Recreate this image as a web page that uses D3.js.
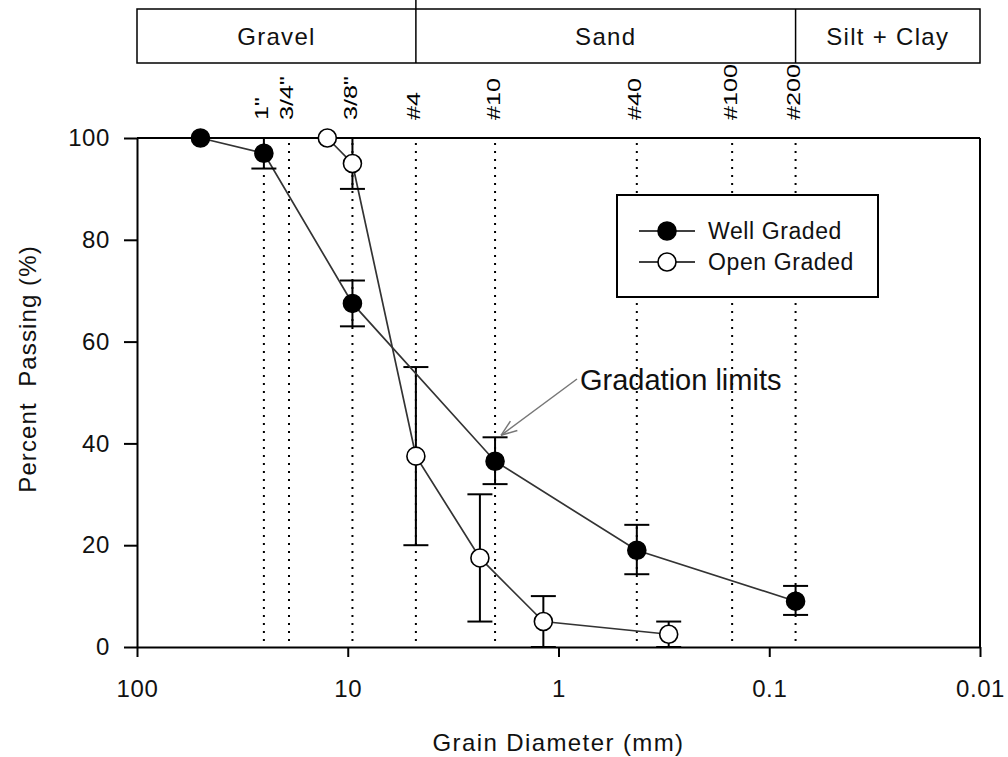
<!DOCTYPE html>
<html>
<head>
<meta charset="utf-8">
<script src="https://cdn.jsdelivr.net/npm/d3@7"></script>
<style>
  html, body { margin: 0; padding: 0; background: #fff; }
  svg { display: block; font-family: "Liberation Sans", Arial, sans-serif; }
</style>
</head>
<body>
<svg id="chart" width="1008" height="757"></svg>
<script>
// Sieve sizes (mm) and their designations
const sieveSizes  = [25, 19, 9.5, 4.75, 2.0, 0.425, 0.15, 0.075];
const sieveLabels = ['1"', '3/4"', '3/8"', '#4', '#10', '#40', '#100', '#200'];

// Soil classes along the grain-size axis
const classNames  = ["Gravel", "Sand", "Silt + Clay"];
const classBounds = [100, 4.75, 0.075, 0.01];

// Well graded mix: size (mm), percent passing, gradation limits
const wellSize    = [50, 25, 9.5, 2.0, 0.425, 0.075];
const wellPassing = [100, 97, 67.5, 36.5, 19, 9];
const wellLow     = [null, 94, 63, 32, 14.3, 6.3];
const wellHigh    = [null, 100, 72, 41.2, 24, 12];

// Open graded mix
const openSize    = [12.5, 9.5, 4.75, 2.36, 1.18, 0.3];
const openPassing = [100, 95, 37.5, 17.5, 5, 2.5];
const openLow     = [null, 90, 20, 5, 0, 0];
const openHigh    = [null, 100, 55, 30, 10, 5];

// Axis ticks
const xTicks = [100, 10, 1, 0.1, 0.01];
const xTickLabels = ["100", "10", "1", "0.1", "0.01"];
const yTicks = [0, 20, 40, 60, 80, 100];

const svg = d3.select("#chart");
const plotLeft = 137, plotRight = 980, plotTop = 138, plotBottom = 647;

const x = d3.scaleLog().domain([100, 0.01]).range([plotLeft, plotRight]);
const y = d3.scaleLinear().domain([0, 100]).range([plotBottom, plotTop]);

const textColor = "#111";

// ---- soil class band ----
const bandTop = 9, bandBottom = 63;
const band = svg.append("g");
band.append("rect")
  .attr("x", plotLeft).attr("y", bandTop)
  .attr("width", plotRight - plotLeft).attr("height", bandBottom - bandTop)
  .attr("fill", "none").attr("stroke", "#000").attr("stroke-width", 1.5);
classBounds.slice(1, -1).forEach(b => {
  band.append("line")
    .attr("x1", x(b)).attr("x2", x(b))
    .attr("y1", b === 4.75 ? 0 : bandTop).attr("y2", bandBottom)
    .attr("stroke", "#000").attr("stroke-width", 1.5);
});
classNames.forEach((name, i) => {
  const cx = (x(classBounds[i]) + x(classBounds[i + 1])) / 2;
  band.append("text")
    .attr("x", cx).attr("y", (bandTop + bandBottom) / 2)
    .attr("dy", "0.36em")
    .attr("text-anchor", "middle")
    .attr("font-size", 24)
    .attr("letter-spacing", 1.3)
    .attr("fill", textColor)
    .text(name);
});

// ---- sieve lines and labels ----
const sieves = svg.append("g");
sieveSizes.forEach((s, i) => {
  sieves.append("line")
    .attr("x1", x(s)).attr("x2", x(s))
    .attr("y1", plotTop + 5).attr("y2", plotBottom)
    .attr("stroke", "#000").attr("stroke-width", 2)
    .attr("stroke-dasharray", "2,6")
    .attr("stroke-linecap", "butt");
  sieves.append("text")
    .attr("transform", `translate(${x(s) - 2},${plotTop - 18}) rotate(-90) scale(1.4,1)`)
    .attr("dy", "0.36em")
    .attr("text-anchor", "start")
    .attr("font-size", 18)
    .attr("fill", "#000")
    .text(sieveLabels[i]);
});

// ---- axes ----
const xAxis = d3.axisBottom(x)
  .tickValues(xTicks)
  .tickFormat((d, i) => xTickLabels[i])
  .tickSize(10).tickSizeOuter(0).tickPadding(23);
const gx = svg.append("g").attr("transform", `translate(0,${plotBottom})`).call(xAxis);
gx.select(".domain").attr("stroke-width", 2);
gx.selectAll(".tick line").attr("stroke-width", 2);
gx.selectAll("text").attr("font-size", 24).attr("letter-spacing", 0.6).attr("fill", textColor)
  .attr("font-family", "Liberation Sans, Arial, sans-serif");

const yAxis = d3.axisLeft(y)
  .tickValues(yTicks)
  .tickSize(13).tickSizeOuter(0).tickPadding(14);
const gy = svg.append("g").attr("transform", `translate(${plotLeft},0)`).call(yAxis);
gy.select(".domain").attr("stroke-width", 2);
gy.selectAll(".tick line").attr("stroke-width", 2);
gy.selectAll("text").attr("font-size", 24).attr("letter-spacing", 0.6).attr("fill", textColor)
  .attr("font-family", "Liberation Sans, Arial, sans-serif");

// frame: top and right edges
svg.append("line").attr("x1", plotLeft).attr("x2", plotRight).attr("y1", plotTop).attr("y2", plotTop)
  .attr("stroke", "#000").attr("stroke-width", 2);
svg.append("line").attr("x1", plotRight).attr("x2", plotRight).attr("y1", plotTop).attr("y2", plotBottom)
  .attr("stroke", "#000").attr("stroke-width", 2);

// axis titles
svg.append("text")
  .attr("x", (plotLeft + plotRight) / 2).attr("y", 751)
  .attr("text-anchor", "middle").attr("font-size", 24).attr("letter-spacing", 1.4)
  .attr("fill", textColor)
  .text("Grain Diameter (mm)");
svg.append("text")
  .attr("transform", `translate(36,369) rotate(-90)`)
  .attr("text-anchor", "middle").attr("font-size", 24).attr("letter-spacing", 1.1)
  .attr("fill", textColor)
  .attr("xml:space", "preserve")
  .text("Percent  Passing (%)");

// ---- series ----
function drawSeries(sizes, passing, low, high, fill) {
  const g = svg.append("g");
  const pts = sizes.map((s, i) => ({ s, p: passing[i], lo: low[i], hi: high[i] }));
  g.append("path")
    .datum(pts)
    .attr("d", d3.line().x(d => x(d.s)).y(d => y(d.p)))
    .attr("fill", "none").attr("stroke", "#333").attr("stroke-width", 1.7);
  const eb = pts.filter(d => d.lo !== null);
  const cap = 12.5;
  eb.forEach(d => {
    g.append("line").attr("x1", x(d.s)).attr("x2", x(d.s))
      .attr("y1", y(d.lo)).attr("y2", y(d.hi))
      .attr("stroke", "#000").attr("stroke-width", 2);
    [d.lo, d.hi].forEach(v => {
      g.append("line").attr("x1", x(d.s) - cap).attr("x2", x(d.s) + cap)
        .attr("y1", y(v)).attr("y2", y(v))
        .attr("stroke", "#000").attr("stroke-width", 2);
    });
  });
  g.selectAll("circle").data(pts).join("circle")
    .attr("cx", d => x(d.s)).attr("cy", d => y(d.p)).attr("r", 9)
    .attr("fill", fill).attr("stroke", "#000").attr("stroke-width", 1.6);
}
drawSeries(openSize, openPassing, openLow, openHigh, "#fff");
drawSeries(wellSize, wellPassing, wellLow, wellHigh, "#000");

// ---- legend ----
const lg = svg.append("g");
lg.append("rect").attr("x", 617).attr("y", 195).attr("width", 261).attr("height", 102)
  .attr("fill", "#fff").attr("stroke", "#000").attr("stroke-width", 2);
[["Well Graded", "#000", 231], ["Open Graded", "#fff", 262]].forEach(([label, fill, ly]) => {
  lg.append("line").attr("x1", 639).attr("x2", 695).attr("y1", ly).attr("y2", ly)
    .attr("stroke", "#000").attr("stroke-width", 1.7);
  lg.append("circle").attr("cx", 667).attr("cy", ly).attr("r", 9)
    .attr("fill", fill).attr("stroke", "#000").attr("stroke-width", 1.6);
  lg.append("text").attr("x", 708).attr("y", ly).attr("dy", "0.36em")
    .attr("font-size", 23).attr("letter-spacing", 0.6)
    .attr("fill", textColor).text(label);
});

// ---- annotation ----
const ann = svg.append("g");
const ax0 = 577, ay0 = 379, ax1 = x(2.0) + 6, ay1 = y(41.2) - 2;
ann.append("line").attr("x1", ax0).attr("y1", ay0).attr("x2", ax1).attr("y2", ay1)
  .attr("stroke", "#777").attr("stroke-width", 1.5);
const ang = Math.atan2(ay0 - ay1, ax0 - ax1);
[0.35, -0.35].forEach(da => {
  ann.append("line").attr("x1", ax1).attr("y1", ay1)
    .attr("x2", ax1 + 17 * Math.cos(ang + da)).attr("y2", ay1 + 17 * Math.sin(ang + da))
    .attr("stroke", "#777").attr("stroke-width", 1.5);
});
ann.append("text").attr("x", 580).attr("y", 390)
  .attr("font-size", 29).attr("fill", textColor).text("Gradation limits");
</script>
</body>
</html>
